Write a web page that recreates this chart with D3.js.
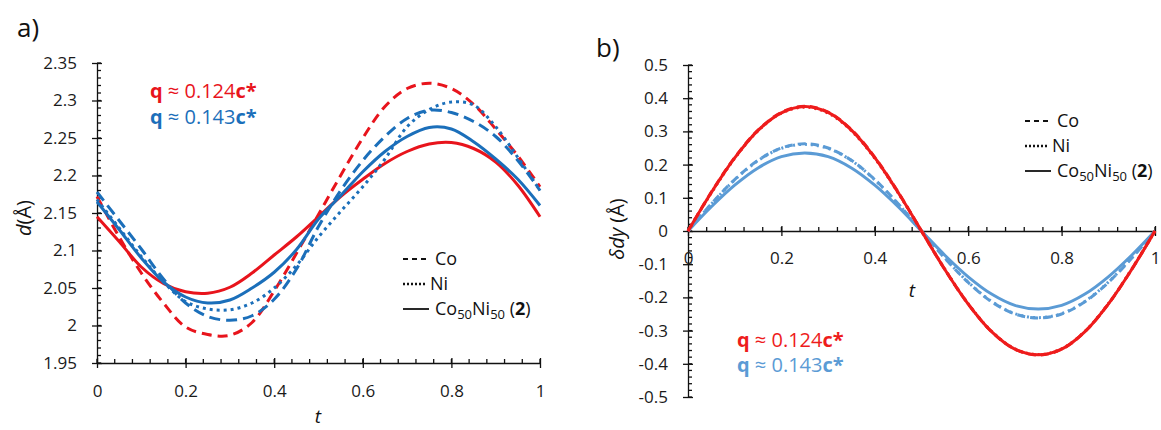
<!DOCTYPE html>
<html>
<head>
<meta charset="utf-8">
<script src="https://cdn.jsdelivr.net/npm/d3@7"></script>
<style>
  body { margin: 0; background: #fff; }
  svg { font-family: "Open Sans", sans-serif; }
  .axis path, .axis line { stroke: #111; stroke-width: 1.3; }
  .axis text { font-size: 17px; fill: #1a1a1a; font-family: "Open Sans", sans-serif; }
</style>
</head>
<body>
<svg width="1161" height="430"></svg>
<script>
// sample points along t
const tValues = [0, 0.05, 0.1, 0.15, 0.2, 0.25, 0.3, 0.35, 0.4, 0.45, 0.5, 0.55, 0.6, 0.65, 0.7, 0.75, 0.8, 0.85, 0.9, 0.95, 1];

// panel a) d(Å)
const aRedCoNi  = [2.145, 2.112, 2.078, 2.056, 2.045, 2.043, 2.051, 2.07, 2.094, 2.118, 2.145, 2.172, 2.195, 2.216, 2.232, 2.242, 2.244, 2.236, 2.218, 2.187, 2.145];
const aRedCo    = [2.172, 2.118, 2.07, 2.03, 1.998, 1.988, 1.987, 2.004, 2.046, 2.096, 2.148, 2.2, 2.25, 2.292, 2.316, 2.323, 2.316, 2.295, 2.262, 2.226, 2.185];
const aBlueCoNi = [2.165, 2.128, 2.09, 2.058, 2.038, 2.03, 2.034, 2.05, 2.071, 2.101, 2.142, 2.173, 2.205, 2.232, 2.252, 2.264, 2.262, 2.245, 2.222, 2.195, 2.16];
const aBlueCo   = [2.178, 2.14, 2.102, 2.062, 2.03, 2.012, 2.007, 2.013, 2.035, 2.075, 2.132, 2.18, 2.22, 2.252, 2.276, 2.287, 2.284, 2.272, 2.252, 2.22, 2.18];
const aBlueNi   = [2.168, 2.13, 2.092, 2.058, 2.032, 2.022, 2.021, 2.03, 2.05, 2.08, 2.118, 2.152, 2.185, 2.222, 2.265, 2.288, 2.298, 2.294, 2.265, 2.224, 2.18];

// panel b) δdy (Å)
const bRedCo    = [0, 0.117, 0.221, 0.304, 0.357, 0.376, 0.358, 0.305, 0.222, 0.117, 0, -0.116, -0.22, -0.303, -0.356, -0.374, -0.356, -0.303, -0.22, -0.116, 0];
const bRedNi    = [0, 0.115, 0.219, 0.302, 0.355, 0.373, 0.355, 0.302, 0.219, 0.115, 0, -0.115, -0.219, -0.302, -0.355, -0.372, -0.355, -0.302, -0.219, -0.115, 0];
const bRedCoNi  = [0, 0.116, 0.22, 0.303, 0.356, 0.375, 0.357, 0.304, 0.221, 0.116, 0, -0.116, -0.22, -0.303, -0.356, -0.373, -0.356, -0.303, -0.22, -0.116, 0];
const bBlueCo   = [0, 0.082, 0.155, 0.213, 0.25, 0.263, 0.25, 0.213, 0.155, 0.082, 0, -0.082, -0.155, -0.213, -0.25, -0.262, -0.25, -0.213, -0.155, -0.082, 0];
const bBlueNi   = [0, 0.081, 0.154, 0.212, 0.249, 0.261, 0.249, 0.212, 0.154, 0.081, 0, -0.081, -0.154, -0.212, -0.249, -0.261, -0.249, -0.212, -0.154, -0.081, 0];
const bBlueCoNi = [0, 0.073, 0.138, 0.19, 0.224, 0.235, 0.224, 0.19, 0.138, 0.073, 0, -0.073, -0.138, -0.19, -0.224, -0.235, -0.224, -0.19, -0.138, -0.073, 0];

// tick labels
const xTicks = [0, 0.2, 0.4, 0.6, 0.8, 1];
const aYTicks = [1.95, 2, 2.05, 2.1, 2.15, 2.2, 2.25, 2.3, 2.35];
const bYTicks = [-0.5, -0.4, -0.3, -0.2, -0.1, 0, 0.1, 0.2, 0.3, 0.4, 0.5];

const svg = d3.select("svg");
const fmt = d => String(+d.toFixed(2));

// helper: crossing major ticks, minor ticks on the inside
function yAxis(g, y, majors, minorStep, x0) {
  const ax = g.append("g").attr("class", "axis").attr("transform", "translate(" + x0 + ",0)")
    .call(d3.axisLeft(y).tickValues(majors).tickSize(5).tickSizeOuter(0).tickPadding(15).tickFormat(fmt));
  ax.selectAll(".tick line").attr("x1", -5).attr("x2", 5);
  const [lo, hi] = y.domain();
  const minors = d3.range(Math.round((hi - lo) / minorStep) + 1).map(i => lo + i * minorStep);
  ax.selectAll(".minor").data(minors).enter().append("line")
    .attr("x1", 0).attr("x2", 4).attr("y1", d => y(d)).attr("y2", d => y(d))
    .attr("stroke", "#111").attr("stroke-width", 1.2);
  return ax;
}
function xAxis(g, x, y0, labelDy) {
  const ax = g.append("g").attr("class", "axis").attr("transform", "translate(0," + y0 + ")")
    .call(d3.axisBottom(x).tickValues(xTicks).tickSize(5).tickSizeOuter(0).tickFormat(fmt));
  ax.selectAll(".tick line").attr("y1", -5).attr("y2", 5);
  ax.selectAll(".tick text").attr("y", labelDy).attr("dy", "0.35em");
  const minors = d3.range(26).map(i => i * 0.04);
  ax.selectAll(".minor").data(minors).enter().append("line")
    .attr("x1", d => x(d)).attr("x2", d => x(d)).attr("y1", 0).attr("y2", -4)
    .attr("stroke", "#111").attr("stroke-width", 1.2);
  return ax;
}
function drawLine(g, x, y, vals, color, dash) {
  const line = d3.line().x((d, i) => x(tValues[i])).y(d => y(d)).curve(d3.curveCatmullRom);
  g.append("path").datum(vals).attr("d", line)
    .attr("fill", "none").attr("stroke", color).attr("stroke-width", 3)
    .attr("stroke-dasharray", dash || null);
}
function qLabel(g, x, yy, color, val) {
  const t = g.append("text").attr("x", x).attr("y", yy).attr("fill", color).style("font-size", "20px");
  t.append("tspan").attr("font-weight", "bold").text("q");
  t.append("tspan").text(" ≈ " + val);
  t.append("tspan").attr("font-weight", "bold").text("c*");
}
function legend(g, x, yy, textX) {
  const rows = [["5,4", "Co"], ["2,2", "Ni"], [null, ""]];
  rows.forEach((r, i) => {
    const by = yy + i * 25;
    g.append("line").attr("x1", x).attr("x2", x + (i === 1 ? 22 : 26)).attr("y1", by - 6).attr("y2", by - 6)
      .attr("stroke", "#111").attr("stroke-width", i === 1 ? 2.5 : 1.8).attr("stroke-dasharray", r[0]);
    const t = g.append("text").attr("x", textX - (i === 1 ? 5 : 0)).attr("y", by).style("font-size", "18px").attr("fill", "#111");
    if (i < 2) t.text(r[1]);
    else {
      t.append("tspan").text("Co");
      t.append("tspan").attr("dy", 4).style("font-size", "13px").text("50");
      t.append("tspan").attr("dy", -4).text("Ni");
      t.append("tspan").attr("dy", 4).style("font-size", "13px").text("50");
      t.append("tspan").attr("dy", -4).text(" (");
      t.append("tspan").attr("font-weight", "bold").text("2");
      t.append("tspan").text(")");
    }
  });
}

// ---------- panel a ----------
const ga = svg.append("g");
const xa = d3.scaleLinear().domain([0, 1]).range([97, 540]);
const ya = d3.scaleLinear().domain([1.95, 2.35]).range([363, 63]);
yAxis(ga, ya, aYTicks, 0.01, 97);
xAxis(ga, xa, 363, 28);

const redA = "#e8141c", blueA = "#1b6fba";
drawLine(ga, xa, ya, aRedCoNi, redA);
drawLine(ga, xa, ya, aRedCo, redA, "10,6");
drawLine(ga, xa, ya, aBlueCoNi, blueA);
drawLine(ga, xa, ya, aBlueCo, blueA, "11,6");
drawLine(ga, xa, ya, aBlueNi, blueA, "3,4");

ga.append("text").attr("x", 17).attr("y", 37).style("font-size", "26px").attr("fill", "#111").text("a)");
qLabel(ga, 150, 98, redA, "0.124");
qLabel(ga, 150, 124, blueA, "0.143");
legend(ga, 403, 265, 435);
ga.append("text").attr("x", 318).attr("y", 423).attr("text-anchor", "middle")
  .style("font-size", "19px").style("font-style", "italic").attr("fill", "#111").text("t");
const ylabA = ga.append("text").attr("transform", "translate(31,218) rotate(-90)").attr("text-anchor", "middle")
  .style("font-size", "20px").attr("fill", "#111");
ylabA.append("tspan").style("font-style", "italic").text("d");
ylabA.append("tspan").text("(Å)");

// ---------- panel b ----------
const gb = svg.append("g");
const xb = d3.scaleLinear().domain([0, 1]).range([688, 1155]);
const yb = d3.scaleLinear().domain([-0.5, 0.5]).range([397, 65]);
yAxis(gb, yb, bYTicks, 0.02, 688);
xAxis(gb, xb, yb(0), 27);

const redB = "#ee1c1c", blueB = "#5b9bd5";
drawLine(gb, xb, yb, bBlueCoNi, blueB);
drawLine(gb, xb, yb, bBlueCo, blueB, "8,5");
drawLine(gb, xb, yb, bBlueNi, blueB, "2,4");
drawLine(gb, xb, yb, bRedCoNi, redB);
drawLine(gb, xb, yb, bRedCo, redB, "8,5");
drawLine(gb, xb, yb, bRedNi, redB, "2,4");

gb.append("text").attr("x", 596).attr("y", 57).style("font-size", "26px").attr("fill", "#111").text("b)");
qLabel(gb, 737, 347, redB, "0.124");
qLabel(gb, 737, 372, blueB, "0.143");
legend(gb, 1025, 127, 1057);
gb.append("text").attr("x", 912).attr("y", 297).attr("text-anchor", "middle")
  .style("font-size", "19px").style("font-style", "italic").attr("fill", "#111").text("t");
const ylabB = gb.append("text").attr("transform", "translate(624,229) rotate(-90)").attr("text-anchor", "middle")
  .style("font-size", "20px").attr("fill", "#111");
ylabB.append("tspan").style("font-style", "italic").text("δdy");
ylabB.append("tspan").text(" (Å)");
</script>
</body>
</html>
